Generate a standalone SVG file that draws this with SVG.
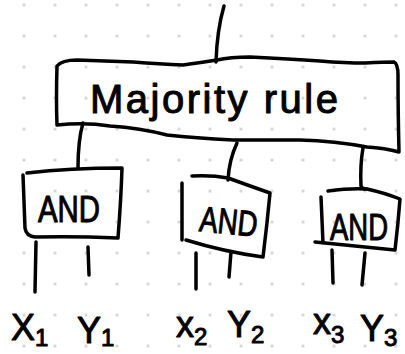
<svg xmlns="http://www.w3.org/2000/svg" width="405" height="354" viewBox="0 0 405 354">
<style>
.s{fill:none;stroke:#000;stroke-width:3.5;stroke-linecap:round;stroke-linejoin:round}
.t{font-family:"Liberation Sans",Arial,sans-serif;fill:#000;stroke:#000;stroke-width:1;stroke-linejoin:round}
.lbl{font-size:36px}
.sub{font-size:24px}
.gate{font-size:36px}
</style>
<defs>
<pattern id="grid" patternUnits="userSpaceOnUse" x="8.5" y="-10.5" width="31" height="31">
<circle cx="15.5" cy="15.5" r="1.5" fill="#cfcfcf"/>
</pattern>
</defs>
<rect width="405" height="354" fill="#fff"/>
<rect width="405" height="354" fill="url(#grid)"/>

<g id="connectors">
<path class="s" d="M224,6 Q217,30 216,62"/>
<path class="s" d="M83,123 Q78,140 78,168"/>
<path class="s" d="M237,143 Q229,160 228,180"/>
<path class="s" d="M363,148 Q360,165 361,186 Q362,189 366,189"/>
<path class="s" d="M36,242 L35,292"/>
<path class="s" d="M88,247 L89,275"/>
<path class="s" d="M196,253 L196,289"/>
<path class="s" d="M231,252 L229,277"/>
<path class="s" d="M332,250 L333,283"/>
<path class="s" d="M365,253 L362,285"/>
</g>

<g id="majority">
<path class="s" d="M57,66 Q62,60 77,60 Q105,61 133,62 Q160,64 183,65 Q205,62 217,60 Q230,57 250,57 Q290,59 320,61 Q345,63 365,63 Q385,62 394,62 Q398,64 398,75 Q398,110 399,152 Q385,148 367,147 Q335,141 300,140 Q260,140 233,140 Q195,138 167,135 Q140,128 110,126 Q85,122 57,125 Q56,100 57,66 Z"/>
<text class="t" x="90" y="113" font-size="40" textLength="248" lengthAdjust="spacing">Majority rule</text>
</g>

<g id="and1">
<path class="s" d="M27,173 Q70,168 122,168 Q121,200 118,238 Q75,236 35,237 Q26,236 25,228 L23,175"/>
<text class="t gate" x="69" y="222" text-anchor="middle" textLength="62" lengthAdjust="spacingAndGlyphs">AND</text>
</g>

<g id="and2">
<path class="s" d="M192,176 Q212,175 228,178 Q250,186 270,193 Q267,225 263,257 Q225,252 186,240 M182,183 L182,240"/>
<text class="t gate" x="229" y="234" text-anchor="middle" transform="rotate(6 229 218)" textLength="58" lengthAdjust="spacingAndGlyphs">AND</text>
</g>

<g id="and3">
<path class="s" d="M328,191 Q350,188 367,189 Q385,193 400,199 Q398,225 395,250 Q355,246 315,242 M321,197 L323,243"/>
<text class="t gate" x="359" y="240" text-anchor="middle" textLength="58" lengthAdjust="spacingAndGlyphs">AND</text>
</g>

<g id="x1"><text class="t lbl" x="11" y="340">X<tspan class="sub" dy="6">1</tspan></text></g>
<g id="y1"><text class="t lbl" x="77" y="343">Y<tspan class="sub" dy="3">1</tspan></text></g>
<g id="x2"><text class="t lbl" x="176" y="337">x<tspan class="sub" dy="8">2</tspan></text></g>
<g id="y2"><text class="t lbl" x="227" y="337">Y<tspan class="sub" dy="6">2</tspan></text></g>
<g id="x3"><text class="t lbl" x="313" y="334">x<tspan class="sub" dy="9">3</tspan></text></g>
<g id="y3"><text class="t lbl" x="360" y="341">Y<tspan class="sub" dy="5">3</tspan></text></g>
</svg>
